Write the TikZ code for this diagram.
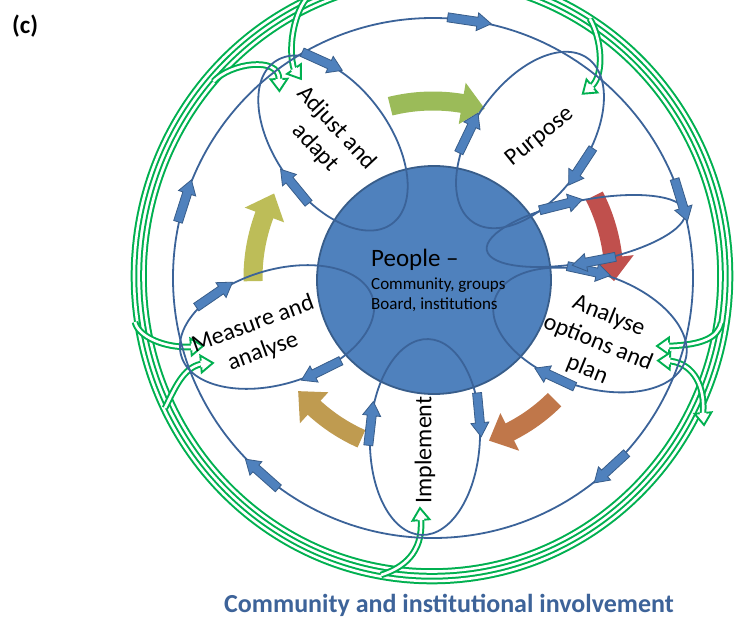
\documentclass[tikz,border=0pt]{standalone}
\usepackage{fontspec}
\setmainfont{Carlito}
\usetikzlibrary{calc}

\definecolor{ringgreen}{HTML}{00B050}
\definecolor{lineblue}{HTML}{3B6399}
\definecolor{fillblue}{HTML}{4F81BD}
\definecolor{edgeblue}{HTML}{385D8A}
\definecolor{titleblue}{HTML}{3D6399}
\definecolor{arrowolive}{HTML}{9BBB59}
\definecolor{arrowred}{HTML}{C0504D}
\definecolor{arroworange}{HTML}{C0774A}
\definecolor{arrowtan}{HTML}{BF9B50}
\definecolor{arrowyellow}{HTML}{BDBD58}

\tikzset{
  greenband/.style={draw=ringgreen, line width=2pt, double=white, double distance=2.6pt},
  loopline/.style={draw=lineblue, line width=1.8pt},
  blockarrow/.style={fill=fillblue, draw=edgeblue, line width=0.8pt, line join=miter},
  petaltext/.style={font=\fontsize{24}{29}\selectfont, align=center, inner sep=0pt},
  peopletext/.style={inner sep=0pt, anchor=base west},
}

% small blue block arrow: position, direction
\newcommand{\flowarrow}[2]{%
  \begin{scope}[shift={#1}, rotate=#2]
    \filldraw[blockarrow] (-24,-4.5) -- (6,-4.5) -- (6,-9) -- (20,0) -- (6,9) -- (6,4.5) -- (-24,4.5) -- cycle;
  \end{scope}}

% block arrow on an ellipse (a, b, parameter t), running clockwise
\newcommand{\looparrow}[3]{%
  \pgfmathsetmacro{\ax}{#1*cos(#3)}%
  \pgfmathsetmacro{\ay}{#2*sin(#3)}%
  \pgfmathsetmacro{\aa}{atan2(-#2*cos(#3), #1*sin(#3))}%
  \flowarrow{(\ax,\ay)}{\aa}}

% loop ellipse: centre, angle, a, b
\newcommand{\petal}[4]{%
  \begin{scope}[shift={#1}, rotate=#2]
    \draw[loopline] (0,0) ellipse[x radius=#3, y radius=#4];
  \end{scope}}

% two arrows on a loop: centre, angle, a, b, t1, t2
\newcommand{\petalarrows}[6]{%
  \begin{scope}[shift={#1}, rotate=#2]
    \looparrow{#3}{#4}{#5}
    \looparrow{#3}{#4}{#6}
  \end{scope}}

% hollow green arrow head: base point, direction
\newcommand{\greenhead}[2]{%
  \begin{scope}[shift={#1}, rotate=#2]
    \fill[white] (0,-8.5) -- (12,0) -- (0,8.5) -- cycle;
    \draw[ringgreen, line width=1.9pt, line join=miter] (0,-3.3) -- (0,-8.5) -- (12,0) -- (0,8.5) -- (0,3.3);
  \end{scope}}

% thick curved cycle arrow: colour, tail angle, tip angle, radius
\newcommand{\cyclearrow}[4]{%
  \pgfmathsetmacro{\hb}{#3+7.5}%
  \pgfmathsetmacro{\ro}{#4+9.5}\pgfmathsetmacro{\ri}{#4-9.5}%
  \pgfmathsetmacro{\ho}{#4+21}\pgfmathsetmacro{\hi}{#4-21}%
  \fill[#1] (#2:\ro) arc[start angle=#2, end angle=\hb, radius=\ro] -- (\hb:\ho) -- (#3:#4) -- (\hb:\hi) -- (\hb:\ri) arc[start angle=\hb, end angle=#2, radius=\ri] -- cycle;}

\begin{document}
\begin{tikzpicture}[x=1pt,y=1pt]
\useasboundingbox (-433,-344) rectangle (301,278);
\fill[white] (-433,-344) rectangle (301,278);

% ---- green involvement ring ----
\coordinate (ringc) at (-1,2);
\draw[greenband] (ringc) ellipse[x radius=298, y radius=305];
\draw[greenband] (ringc) ellipse[x radius=288.5, y radius=295.5];

% branches from the ring into the loops
\coordinate (adjA) at (-154,199);
\coordinate (adjB) at (-139,209);
\coordinate (purp) at (159,192);
\coordinate (anaA) at (236,-68);
\coordinate (anaB) at (237,-83);
\coordinate (anaC) at (270,-135);
\coordinate (impl) at (-12,-242);
\coordinate (meaA) at (-242,-69);
\coordinate (meaB) at (-232,-86);

\draw[greenband] (-219.5,196.5) .. controls (-203,215) and (-154,222) .. (adjA);
\draw[greenband] (-127,279) .. controls (-140,262) and (-145,228) .. (adjB);
\draw[greenband] (157,259) .. controls (168,240) and (172,205) .. (purp);
\draw[greenband] (288,-45) .. controls (285,-60) and (268,-67) .. (anaA);
\draw[greenband] (anaB) .. controls (262,-86) and (272,-110) .. (anaC);
\draw[greenband] (-52,-297) .. controls (-30,-290) and (-10,-275) .. (impl);
\draw[greenband] (-298,-44) .. controls (-295,-58) and (-270,-70) .. (meaA);
\draw[greenband] (-268,-130) .. controls (-258,-110) and (-250,-90) .. (meaB);

\greenhead{(adjA)}{-88}
\greenhead{(adjB)}{-55}
\greenhead{(purp)}{-140}
\greenhead{(anaA)}{180}
\greenhead{(anaB)}{178}
\greenhead{(anaC)}{-85}
\greenhead{(impl)}{95}
\greenhead{(meaA)}{5}
\greenhead{(meaB)}{5}

% ---- thick cycle arrows between the stages ----
\cyclearrow{arrowolive}{104}{73}{177}
\cyclearrow{arrowred}{27}{-1}{181}
\cyclearrow{arroworange}{-45}{-71}{172}
\cyclearrow{arrowtan}{-114}{-140}{176}
\cyclearrow{arrowyellow}{181}{152}{180}

% ---- people circle ----
\filldraw[fill=fillblue, draw=edgeblue, line width=1.8pt] (1,-2) ellipse[x radius=117, y radius=114];

% ---- outer blue cycle ----
\draw[loopline] (0,0) circle[radius=260];

% ---- stage loops ----
\petal{(-100,135)}{126}{100}{57}
\petal{(97,138)}{55}{100}{57}
\petal{(157,-52)}{-18}{100}{57}
\petal{(-8,-159)}{-92}{98}{55}
\petal{(-156,-49)}{197}{100}{57}
\petal{(153,47)}{11}{101}{31}

% ---- flow arrows ----
\foreach \p in {81.5,17,-47.4,-131.6,162.3} { \flowarrow{(\p:260)}{\p-90} }
\petalarrows{(-100,135)}{126}{100}{57}{-45}{96}
\petalarrows{(97,138)}{55}{100}{57}{106}{-87}
\petalarrows{(157,-52)}{-18}{100}{57}{100}{-102}
\petalarrows{(-8,-159)}{-92}{98}{55}{-98}{103}
\petalarrows{(-156,-49)}{197}{100}{57}{-61}{106}
\petalarrows{(153,47)}{11}{101}{31}{100}{-90}

% ---- texts ----
\node[peopletext, font=\fontsize{25}{30}\selectfont] (people) at (-62,12) {People –};
\node[peopletext, font=\fontsize{17}{20}\selectfont] (groups) at (-62,-11) {Community, groups};
\node[peopletext, font=\fontsize{17}{20}\selectfont] (board) at (-62,-31) {Board, institutions};

\node[petaltext, rotate=-47] (adjust) at (-107,140) {Adjust and\\adapt};
\node[petaltext, rotate=39] (purpose) at (107,141) {Purpose};
\node[petaltext, rotate=-22] (analyse) at (165,-65) {Analyse\\options and\\plan};
\node[petaltext, rotate=90] (implement) at (-8,-172) {Implement};
\node[petaltext, rotate=20] (measure) at (-175,-60) {Measure and\\analyse};

\node[inner sep=0pt, anchor=base west, font=\bfseries\fontsize{25}{29}\selectfont] (tag) at (-421,245) {(c)};
\node[inner sep=0pt, font=\bfseries\fontsize{26}{31}\selectfont, text=titleblue] (title) at (16,-327) {Community and institutional involvement};
\end{tikzpicture}
\end{document}
